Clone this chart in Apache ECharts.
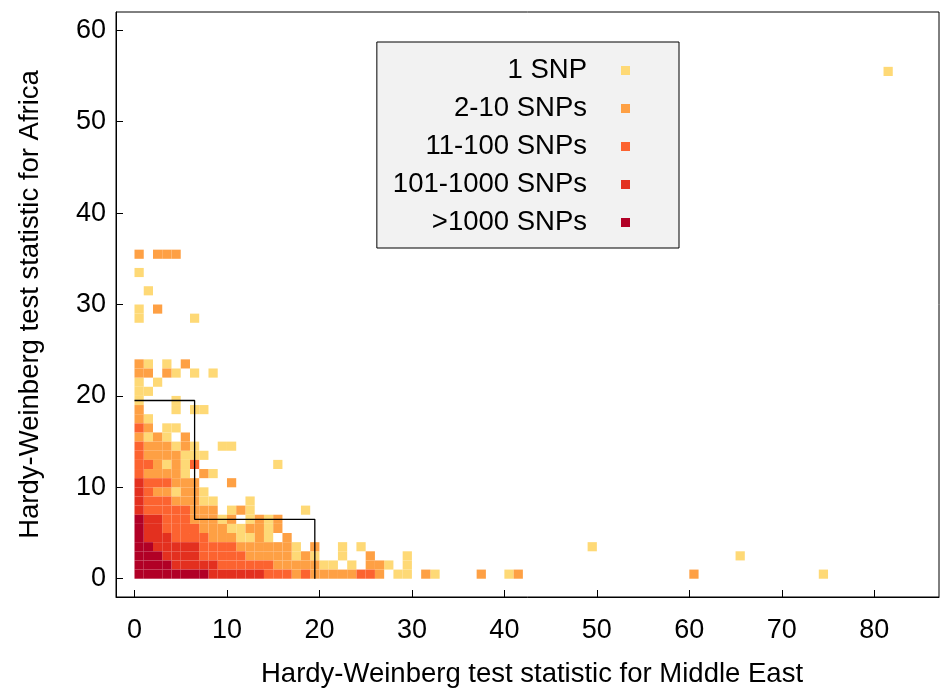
<!DOCTYPE html>
<html><head><meta charset="utf-8">
<script src="https://cdn.jsdelivr.net/npm/echarts@6/dist/echarts.min.js"></script>
<style>html,body{margin:0;padding:0;background:#fff}#c{width:940px;height:688px}</style>
</head><body><div id="c"></div>
<script>
const seriesNames = ['1 SNP', '2-10 SNPs', '11-100 SNPs', '101-1000 SNPs', '>1000 SNPs'];
const seriesColors = ['#FED976', '#FEA044', '#FC6330', '#E3301F', '#B10026'];
const xTicks = [0, 10, 20, 30, 40, 50, 60, 70, 80];
const yTicks = [0, 10, 20, 30, 40, 50, 60];
const xTitle = 'Hardy-Weinberg test statistic for Middle East';
const yTitle = 'Hardy-Weinberg test statistic for Africa';

// cells: [x bin start, y bin start] (bins are 1 unit wide)
const level1Cells = [[0,19],[0,20],[0,21],[0,28],[0,29],[0,33],[1,15],[1,17],[1,20],[1,23],[1,31],[2,21],[3,12],[3,15],[3,16],[3,23],[4,9],[4,14],[4,16],[4,18],[4,19],[4,22],[5,11],[5,12],[5,13],[6,13],[6,14],[6,18],[6,22],[6,28],[7,8],[7,9],[7,13],[7,18],[8,8],[8,11],[8,22],[9,6],[9,14],[10,5],[10,7],[10,14],[11,4],[11,5],[12,4],[12,6],[12,7],[12,8],[14,4],[14,5],[14,6],[15,12],[17,2],[17,3],[18,7],[19,2],[20,1],[21,1],[22,2],[22,3],[23,1],[24,3],[27,1],[28,0],[29,0],[29,1],[29,2],[32,0],[40,0],[49,3],[65,2],[74,0],[81,55]];
const level2Cells = [[0,15],[0,17],[0,18],[0,22],[0,23],[0,35],[1,11],[1,13],[1,14],[1,16],[1,22],[2,9],[2,11],[2,12],[2,13],[2,14],[2,15],[2,29],[2,35],[3,9],[3,11],[3,13],[3,14],[3,22],[3,35],[4,8],[4,10],[4,11],[4,12],[4,13],[4,35],[5,8],[5,9],[5,10],[5,14],[5,15],[5,23],[6,6],[6,7],[6,8],[6,9],[6,10],[7,5],[7,6],[7,7],[7,11],[8,4],[8,5],[8,6],[8,7],[9,4],[9,5],[10,4],[10,6],[10,10],[11,3],[11,7],[12,2],[12,3],[12,5],[13,2],[13,3],[13,4],[13,5],[13,6],[14,2],[14,3],[15,1],[15,2],[15,3],[15,5],[15,6],[16,1],[16,2],[16,3],[16,4],[17,0],[17,1],[18,1],[18,2],[19,0],[19,1],[19,3],[20,0],[21,0],[22,0],[23,0],[25,1],[25,2],[26,0],[26,1],[31,0],[37,0],[41,0],[60,0]];
const level3Cells = [[0,11],[0,12],[0,13],[0,14],[0,16],[1,7],[1,8],[1,9],[1,10],[1,12],[2,7],[2,8],[2,10],[3,5],[3,6],[3,7],[3,8],[3,10],[4,4],[4,5],[4,6],[4,7],[5,4],[5,5],[5,6],[5,7],[6,4],[6,5],[6,12],[7,2],[7,3],[7,4],[8,2],[8,3],[9,1],[9,2],[9,3],[10,1],[10,2],[10,3],[11,1],[11,2],[12,1],[13,1],[14,0],[14,1],[15,0],[16,0],[18,0],[24,0],[25,0]];
const level4Cells = [[0,7],[0,8],[0,9],[0,10],[1,4],[1,5],[1,6],[2,3],[2,4],[2,5],[2,6],[3,2],[3,3],[3,4],[4,1],[4,2],[4,3],[5,1],[5,2],[5,3],[6,1],[6,2],[6,3],[7,1],[8,0],[8,1],[9,0],[10,0],[11,0],[12,0],[13,0]];
const level5Cells = [[0,0],[0,1],[0,2],[0,3],[0,4],[0,5],[0,6],[1,0],[1,1],[1,2],[1,3],[2,0],[2,1],[2,2],[3,0],[3,1],[4,0],[5,0],[6,0],[7,0]];
const levelCells = [level1Cells, level2Cells, level3Cells, level4Cells, level5Cells];

// threshold boundary (step line)
const boundary = [[0,19.5],[6.5,19.5],[6.5,6.5],[19.5,6.5],[19.5,0]];

const FONT = 'Liberation Sans, Arial, Helvetica, sans-serif';

function renderCell(params, api) {
  const x = api.value(0), y = api.value(1);
  const p0 = api.coord([x, y + 1]);
  const p1 = api.coord([x + 1, y]);
  return {
    type: 'rect',
    shape: { x: p0[0], y: p0[1], width: p1[0] - p0[0], height: p1[1] - p0[1] },
    style: { fill: api.visual('color') }
  };
}

const series = levelCells.map((cells, i) => ({
  name: seriesNames[i],
  type: 'custom',
  renderItem: renderCell,
  encode: { x: 0, y: 1 },
  itemStyle: { color: seriesColors[i] },
  data: cells,
  z: 2
}));
series.push({
  name: 'boundary',
  type: 'line',
  data: boundary,
  showSymbol: false,
  symbol: 'none',
  lineStyle: { color: '#000', width: 1.3 },
  z: 5
});

const chart = echarts.init(document.getElementById('c'), null, { renderer: 'canvas' });
chart.setOption({
  animation: false,
  backgroundColor: '#fff',
  grid: { left: 116, right: 1, top: 12, bottom: 91, show: true, borderColor: '#000', borderWidth: 1, containLabel: false, outerBoundsMode: 'none' },
  xAxis: {
    type: 'value', min: -2, max: 87,
    name: xTitle, nameLocation: 'middle', nameGap: 63,
    nameTextStyle: { fontSize: 27.5, fontFamily: FONT, color: '#000', padding: [0, 0, 0, 9] },
    axisLine: { show: true, onZero: false, lineStyle: { color: '#000', width: 1 } },
    axisTick: { show: true, inside: true, length: 7, customValues: xTicks, lineStyle: { color: '#000' } },
    axisLabel: { customValues: xTicks, fontSize: 27, fontFamily: FONT, color: '#000', margin: 20 },
    splitLine: { show: false }
  },
  yAxis: {
    type: 'value', min: -2, max: 62,
    name: yTitle, nameLocation: 'middle', nameGap: 72, nameRotate: 90,
    nameTextStyle: { fontSize: 27.5, fontFamily: FONT, color: '#000' },
    axisLine: { show: true, onZero: false, lineStyle: { color: '#000', width: 1 } },
    axisTick: { show: true, inside: true, length: 7, customValues: yTicks, lineStyle: { color: '#000' } },
    axisLabel: { customValues: yTicks, fontSize: 27, fontFamily: FONT, color: '#000', margin: 10 },
    splitLine: { show: false }
  },
  legend: {
    data: seriesNames,
    orient: 'vertical',
    align: 'right',
    right: 261, top: 42,
    padding: [14.5, 49, 11.5, 16],
    backgroundColor: '#F2F2F2',
    borderColor: '#000', borderWidth: 1,
    itemWidth: 9, itemHeight: 9, itemGap: 10,
    icon: 'rect',
    selectedMode: false,
    textStyle: { fontSize: 27.5, fontFamily: FONT, color: '#000', lineHeight: 27, padding: [0, 29, 0, 0] }
  },
  series: series
});
</script>
</body></html>
